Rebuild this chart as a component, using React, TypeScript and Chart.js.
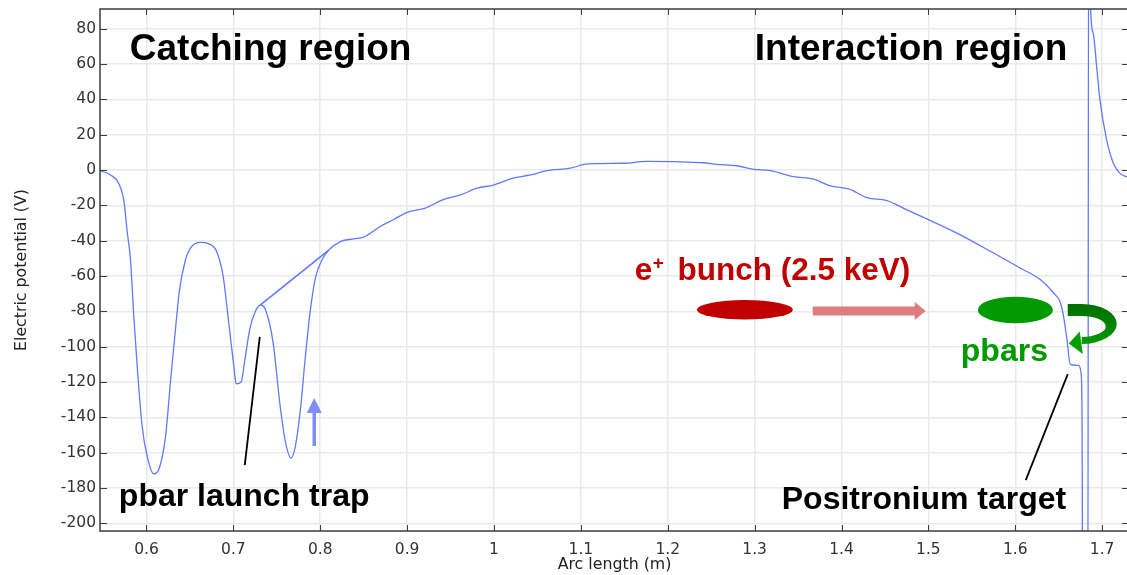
import React, { useEffect, useRef } from "react";
import { Chart, registerables } from "chart.js";

Chart.register(...registerables);

// ---- data ----
const arcLength = [
  0.5465, 0.5586, 0.568, 0.574, 0.578, 0.5816, 0.5854, 0.5893, 0.595, 0.6008,
  0.6084, 0.615, 0.622, 0.6276, 0.633, 0.638, 0.6449, 0.6506, 0.6621, 0.6717,
  0.6806, 0.6882, 0.6947, 0.7005, 0.7032, 0.709, 0.7128, 0.7189, 0.7254, 0.7312,
  0.7369, 0.7458, 0.7534, 0.76, 0.7665, 0.7715, 0.7772, 0.783, 0.7887, 0.7945,
  0.8021, 0.8098, 0.8232, 0.8386, 0.85, 0.869, 0.8846, 0.9, 0.921, 0.94,
  0.9614, 0.9806, 0.9997, 1.0208, 1.0419, 1.0611, 1.0879, 1.1071, 1.149, 1.176,
  1.2068, 1.241, 1.2567, 1.2797, 1.2988, 1.318, 1.345, 1.368, 1.3871, 1.4082,
  1.4293, 1.4523, 1.4753, 1.4983, 1.5367, 1.575, 1.6057, 1.6288, 1.6441, 1.6518,
  1.6556, 1.6595, 1.6633, 1.6729, 1.6757, 1.6768, 1.678, 1.6834, 1.6846, 1.6868,
  1.6899, 1.6937, 1.6975, 1.7052, 1.7129, 1.7205, 1.7282, 1.735,
];
const potential = [
  -0.3, -2.8, -7.5, -17.5, -35.7, -50.8, -82.8, -111, -145, -162,
  -172, -168.4, -150.5, -120, -92, -68, -50.8, -44.2, -41, -41.8,
  -46, -60, -86.5, -111, -121, -120, -109, -90, -80, -76.4,
  -79, -97.8, -131.7, -154, -163, -156, -135.5, -105, -79, -61,
  -50.8, -45.3, -40.5, -39, -38, -32, -28, -24, -21.6, -17,
  -14.1, -10.3, -8.5, -4.7, -2.8, -0.4, 1.0, 3.4, 3.8, 4.9,
  4.7, 4.1, 3.2, 2.4, 0.4, -0.4, -3.8, -5.2, -9.0, -10.7,
  -15.6, -17.3, -22.6, -27.7, -36.7, -47, -55.5, -62, -69.6, -75,
  -83, -96, -110, -110.6, -114.8, -137, -300, -300, 200, 90,
  77, 58.3, 39.5, 16.9, 3.8, -1.9, -3.8, -4.5,
];
// straight segment drawn from the launch-trap peak to the rejoin point
const chordArc = [0.7312, 0.8098];
const chordPotential = [-76.4, -45.3];

const xTicks = [0.6, 0.7, 0.8, 0.9, 1.0, 1.1, 1.2, 1.3, 1.4, 1.5, 1.6, 1.7];
const yTicks = [-200, -180, -160, -140, -120, -100, -80, -60, -40, -20, 0, 20, 40, 60, 80];

const X_MIN = 0.5465;
const X_MAX = 1.7309;
const Y_MIN = -204.3;
const Y_MAX = 91.1;

const LINE_COLOR = "#6079ff";
const BOLD = (s: number) => `bold ${s}px "Liberation Sans", Arial, sans-serif`;

const framePlugin = {
  id: "frameAndNotes",
  afterDraw(chart: any) {
    const { ctx, chartArea: a } = chart;
    const xs = chart.scales.x;
    const ys = chart.scales.y;
    const X = (v: number) => xs.getPixelForValue(v);
    const Y = (v: number) => ys.getPixelForValue(v);
    ctx.save();

    // frame + inward ticks
    ctx.strokeStyle = "#3c3c3c";
    ctx.lineWidth = 1;
    ctx.beginPath();
    for (const v of yTicks) {
      const py = Math.round(Y(v)) + 0.5;
      ctx.moveTo(a.left, py);
      ctx.lineTo(a.left + 7, py);
      ctx.moveTo(a.right, py);
      ctx.lineTo(a.right - 7, py);
    }
    for (const v of xTicks) {
      const px = Math.round(X(v)) + 0.5;
      ctx.moveTo(px, a.bottom);
      ctx.lineTo(px, a.bottom - 6);
      ctx.moveTo(px, a.top);
      ctx.lineTo(px, a.top + 6);
    }
    ctx.stroke();
    ctx.lineWidth = 1.5;
    ctx.strokeRect(a.left, a.top, a.right - a.left, a.bottom - a.top);

    // region titles
    ctx.fillStyle = "#000";
    ctx.textBaseline = "alphabetic";
    ctx.textAlign = "left";
    ctx.font = BOLD(37);
    ctx.fillText("Catching region", X(0.5808), Y(62.5));
    ctx.fillText("Interaction region", X(1.3002), Y(62.3));
    ctx.font = BOLD(32);
    ctx.fillText("pbar launch trap", X(0.5682), Y(-190.2));
    ctx.fillText("Positronium target", X(1.3312), Y(-191.9));

    // pointer lines
    ctx.strokeStyle = "#000";
    ctx.lineWidth = 1.8;
    ctx.beginPath();
    ctx.moveTo(X(0.7131), Y(-167));
    ctx.lineTo(X(0.7304), Y(-94.5));
    ctx.moveTo(X(1.6121), Y(-175.5));
    ctx.lineTo(X(1.6604), Y(-115.5));
    ctx.stroke();

    // blue up arrow
    {
      const bx = X(0.7931);
      const by0 = Y(-156.2);
      const tip = Y(-129.1);
      ctx.strokeStyle = "#7d8ff6";
      ctx.fillStyle = "#7d8ff6";
      ctx.lineWidth = 3.5;
      ctx.beginPath();
      ctx.moveTo(bx, by0);
      ctx.lineTo(bx, tip + 12);
      ctx.stroke();
      ctx.beginPath();
      ctx.moveTo(bx, tip);
      ctx.lineTo(bx + 7.5, tip + 15);
      ctx.lineTo(bx - 7.5, tip + 15);
      ctx.closePath();
      ctx.fill();
    }

    // e+ bunch label
    ctx.fillStyle = "#c00000";
    ctx.font = BOLD(31.5);
    ctx.fillText("e", X(1.162), Y(-62.3));
    ctx.font = BOLD(19);
    ctx.fillText("+", X(1.1828), Y(-56.0));
    ctx.font = BOLD(31.5);
    ctx.fillText("bunch (2.5 keV)", X(1.2112), Y(-62.3));

    // red ellipse (positron bunch)
    ctx.beginPath();
    ctx.ellipse(X(1.2888), Y(-79.1), 48, 9.7, 0, 0, Math.PI * 2);
    ctx.fill();

    // pink arrow
    {
      const x0 = X(1.3669);
      const x1 = X(1.4969);
      const yy = Y(-79.8);
      ctx.fillStyle = "#df7d7e";
      ctx.beginPath();
      ctx.moveTo(x0, yy - 4.5);
      ctx.lineTo(x1 - 11, yy - 4.5);
      ctx.lineTo(x1 - 11, yy - 9);
      ctx.lineTo(x1, yy);
      ctx.lineTo(x1 - 11, yy + 9);
      ctx.lineTo(x1 - 11, yy + 4.5);
      ctx.lineTo(x0, yy + 4.5);
      ctx.closePath();
      ctx.fill();
    }

    // green ellipse (pbars)
    ctx.fillStyle = "#009a00";
    ctx.beginPath();
    ctx.ellipse(X(1.6001), Y(-79.2), 37.5, 13.3, 0, 0, Math.PI * 2);
    ctx.fill();
    ctx.font = BOLD(32);
    ctx.fillText("pbars", X(1.5373), Y(-108.1));

    // curved green arrow
    {
      const ax = X(1.6604);
      const ay = Y(-79.2);
      const cx = ax + 14;
      const grad = ctx.createLinearGradient(0, ay - 6, 0, ay + 40);
      grad.addColorStop(0, "#006f00");
      grad.addColorStop(0.6, "#008a00");
      grad.addColorStop(1, "#00a300");
      ctx.fillStyle = grad;
      ctx.beginPath();
      ctx.moveTo(ax, ay - 6);
      ctx.lineTo(cx, ay - 6);
      ctx.ellipse(cx, ay + 14, 35, 20, 0, -Math.PI / 2, Math.PI / 2, false);
      ctx.lineTo(cx, ay + 34);
      ctx.lineTo(cx, ay + 27);
      ctx.ellipse(cx, ay + 16.5, 24, 10.5, 0, Math.PI / 2, -Math.PI / 2, true);
      ctx.lineTo(ax, ay + 6);
      ctx.closePath();
      ctx.fill();
      ctx.fillStyle = "#00a000";
      ctx.beginPath();
      ctx.moveTo(ax + 1, ay + 33.5);
      ctx.lineTo(ax + 12, ay + 21.5);
      ctx.lineTo(ax + 15, ay + 44);
      ctx.closePath();
      ctx.fill();
    }

    ctx.restore();
  },
};

export default function App() {
  const ref = useRef<HTMLCanvasElement | null>(null);
  useEffect(() => {
    if (!ref.current) return;
    const main = arcLength.map((x, i) => ({ x, y: potential[i] }));
    const chord = chordArc.map((x, i) => ({ x, y: chordPotential[i] }));
    const tickFont = { family: '"DejaVu Sans", sans-serif', size: 15.5 };
    const titleFont = { family: '"DejaVu Sans", sans-serif', size: 15.8 };
    const chart = new Chart(ref.current, {
      type: "line",
      data: {
        datasets: [
          {
            data: main,
            borderColor: LINE_COLOR,
            borderWidth: 1.3,
            pointRadius: 0,
            cubicInterpolationMode: "monotone",
            fill: false,
          },
          {
            data: chord,
            borderColor: LINE_COLOR,
            borderWidth: 1.6,
            pointRadius: 0,
            tension: 0,
            fill: false,
          },
        ],
      },
      options: {
        animation: false,
        responsive: false,
        devicePixelRatio: 1,
        parsing: false,
        layout: { padding: { left: 0, top: 9, right: 1, bottom: 0 } },
        plugins: {
          legend: { display: false },
          tooltip: { enabled: false },
        },
        scales: {
          x: {
            type: "linear",
            min: X_MIN,
            max: X_MAX,
            afterBuildTicks: (s: any) => {
              s.ticks = xTicks.map((v) => ({ value: v }));
            },
            afterFit: (s: any) => {
              s.height = 44;
              s.paddingLeft = 0;
              s.paddingRight = 0;
            },
            ticks: {
              font: tickFont,
              color: "#333",
              padding: 9.5,
              maxRotation: 0,
              autoSkip: false,
              callback: (v: any) => String(+Number(v).toFixed(1)),
            },
            grid: { color: "#e9e9e9", lineWidth: 1.5, drawTicks: false },
            border: { display: false },
            title: {
              display: true,
              text: "Arc length (m)",
              font: titleFont,
              color: "#222",
              padding: { top: 0, bottom: 0.5 },
            },
          },
          y: {
            type: "linear",
            min: Y_MIN,
            max: Y_MAX,
            afterBuildTicks: (s: any) => {
              s.ticks = yTicks.map((v) => ({ value: v }));
            },
            afterFit: (s: any) => {
              s.width = 100;
              s.paddingTop = 0;
              s.paddingBottom = 0;
            },
            ticks: {
              font: tickFont,
              color: "#333",
              padding: 4,
              autoSkip: false,
              callback: (v: any) => String(Math.round(Number(v))),
            },
            grid: { color: "#e9e9e9", lineWidth: 1.5, drawTicks: false },
            border: { display: false },
            title: {
              display: true,
              text: "Electric potential (V)",
              font: titleFont,
              color: "#222",
              padding: { top: 12, bottom: 0 },
            },
          },
        },
      },
      plugins: [framePlugin],
    });
    return () => chart.destroy();
  }, []);
  return (
    <div
      style={{
        position: "fixed",
        left: 0,
        top: 0,
        width: 1127,
        height: 575,
        overflow: "hidden",
        background: "#fff",
      }}
    >
      <canvas ref={ref} width={1130} height={575} style={{ width: 1130, height: 575, display: "block" }} />
    </div>
  );
}
